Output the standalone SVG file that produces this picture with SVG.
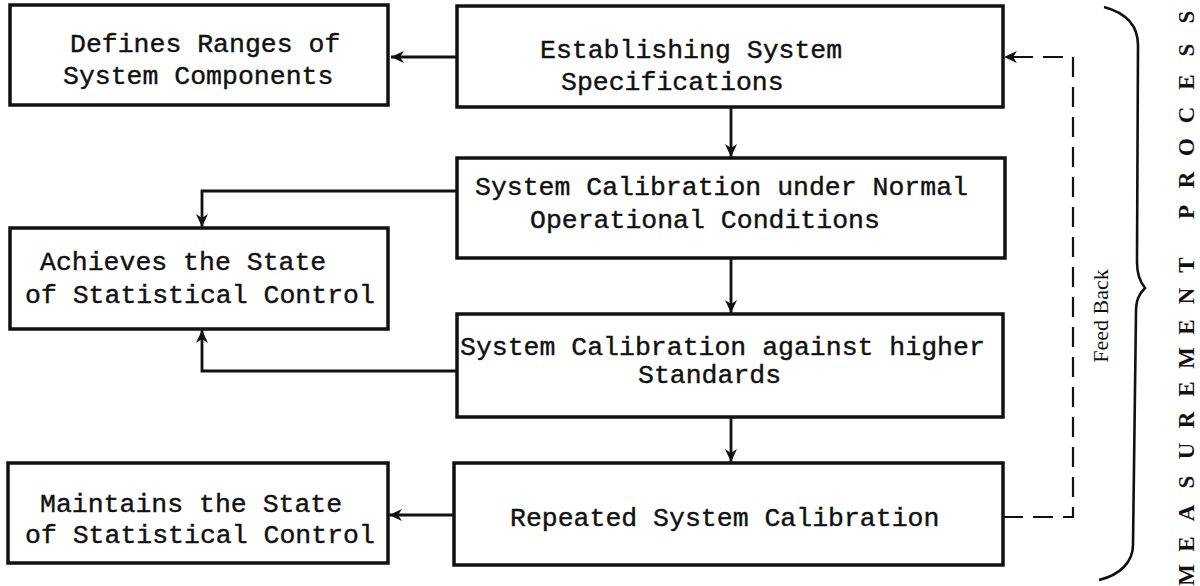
<svg xmlns="http://www.w3.org/2000/svg" width="1200" height="586" viewBox="0 0 1200 586">
<style>
.box{fill:#fff;stroke:#111;stroke-width:3.5}
.t{font-family:"Liberation Mono",monospace;font-size:26.5px;fill:#111;stroke:#111;stroke-width:0.4}
.c{fill:none;stroke:#111;stroke-width:2.8}
.d{fill:none;stroke:#111;stroke-width:2.2;stroke-dasharray:20 10}
.s{font-family:"Liberation Serif",serif;font-size:22px;fill:#111}
.p{font-family:"Liberation Serif",serif;font-size:23px;font-weight:bold;fill:#111}
</style>
<defs>
<marker id="ah" markerUnits="userSpaceOnUse" markerWidth="16" markerHeight="14" refX="13" refY="7" orient="auto">
<path d="M0,1 L13,7 L0,13 L4,7 Z" fill="#111"/>
</marker>
</defs>
<rect width="1200" height="586" fill="#fff"/>
<g id="connectors">
<path class="c" d="M457,57 H391" marker-end="url(#ah)"/>
<path class="c" d="M731,107 V157" marker-end="url(#ah)"/>
<path class="c" d="M457,191 H202 V227" marker-end="url(#ah)"/>
<path class="c" d="M731,258 V313" marker-end="url(#ah)"/>
<path class="c" d="M457,371 H202 V330" marker-end="url(#ah)"/>
<path class="c" d="M731,417 V462" marker-end="url(#ah)"/>
<path class="c" d="M454,515 H389" marker-end="url(#ah)"/>
<path class="d" d="M1003,517 H1073 V57 H1004" marker-end="url(#ah)"/>
</g>
<g id="n1"><rect class="box" x="10" y="5" width="378" height="100"/>
<text class="t" x="70" y="52">Defines Ranges of</text><text class="t" x="63" y="84">System Components</text></g>
<g id="n2"><rect class="box" x="457" y="6" width="546" height="101"/>
<text class="t" x="540" y="58">Establishing System</text><text class="t" x="561" y="90">Specifications</text></g>
<g id="n3"><rect class="box" x="457" y="158" width="548" height="100"/>
<text class="t" x="475" y="195">System Calibration under Normal</text><text class="t" x="530" y="228">Operational Conditions</text></g>
<g id="n4"><rect class="box" x="10" y="228" width="378" height="101"/>
<text class="t" x="40" y="270">Achieves the State</text><text class="t" x="25" y="303">of Statistical Control</text></g>
<g id="n5"><rect class="box" x="457" y="314" width="546" height="103"/>
<text class="t" x="460" y="355">System Calibration against higher</text><text class="t" x="638" y="383">Standards</text></g>
<g id="n6"><rect class="box" x="454" y="463" width="549" height="102"/>
<text class="t" x="510" y="526">Repeated System Calibration</text></g>
<g id="n7"><rect class="box" x="8" y="463" width="380" height="100"/>
<text class="t" x="40" y="512">Maintains the State</text><text class="t" x="25" y="543">of Statistical Control</text></g>
<g id="feedback-label"><text class="s" transform="translate(1108,316) rotate(-90)" text-anchor="middle">Feed Back</text></g>
<g id="brace"><path fill="none" stroke="#111" stroke-width="2.6" d="M1104,7 C1126,13 1138,26 1138,45 L1137,262 C1137,275 1140,282 1145,288 C1139,294 1136,300 1136,312 L1133,545 C1133,562 1120,575 1099,580"/></g>
<g id="process-label"><text class="p" transform="translate(1194,0) rotate(-90)" text-anchor="middle" x="-575 -544 -513 -482 -451 -420 -389 -358 -327 -296 -265 -212 -180 -147 -115 -82 -50 -17" y="0">MEASUREMENTPROCESS</text></g>
</svg>
